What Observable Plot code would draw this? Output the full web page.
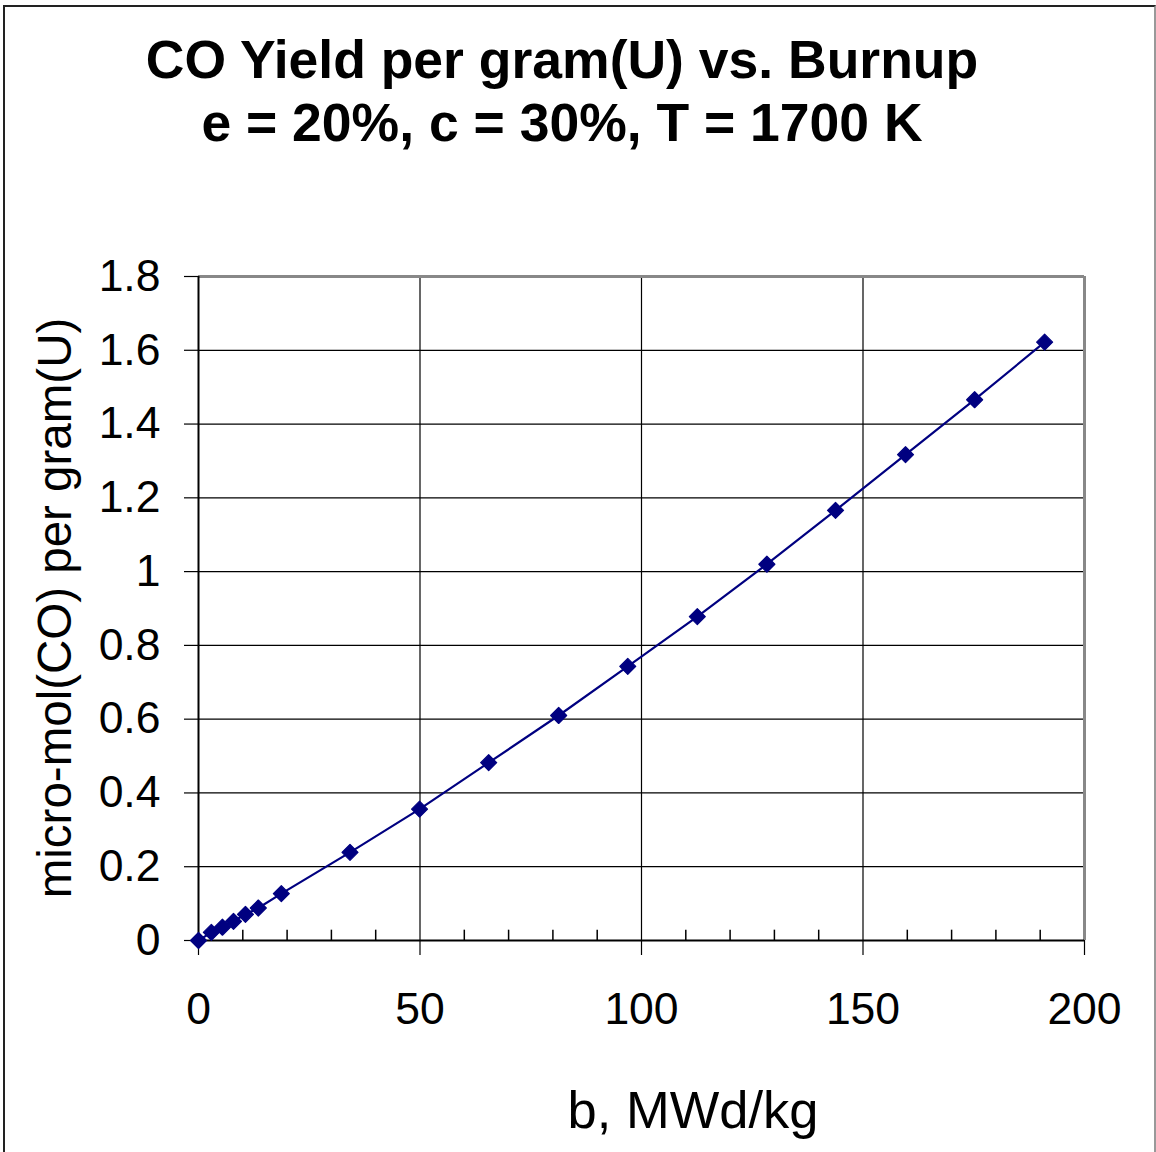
<!DOCTYPE html>
<html>
<head>
<meta charset="utf-8">
<script src="https://cdn.jsdelivr.net/npm/d3@7"></script>
<script src="https://cdn.jsdelivr.net/npm/@observablehq/plot@0.6"></script>
<style>
  html, body { margin: 0; padding: 0; background: white; }
  #wrap { position: relative; width: 1156px; height: 1152px; overflow: hidden; font-family: "Liberation Sans", Arial, sans-serif; }
  #frame { position: absolute; left: 3px; top: 5px; width: 1153px; height: 1160px; border: 2px solid #222; border-right-color: #999; box-sizing: border-box; }
  #title { position: absolute; left: 0; width: 1124px; top: 28px; text-align: center; font-weight: bold; font-size: 53.5px; line-height: 63px; color: #000; }
  #xlabel { position: absolute; left: 0; width: 1386px; top: 1080px; text-align: center; font-size: 52.5px; line-height: 60px; }
  #ylabel { position: absolute; left: 55px; top: 608px; transform: translate(-50%, -50%) rotate(-90deg); white-space: nowrap; font-size: 47.5px; line-height: 52px; }
  svg { position: absolute; left: 0; top: 0; }
</style>
</head>
<body>
<div id="wrap">
  <div id="frame"></div>
  <div id="chart"></div>
  <div id="title">CO Yield per gram(U) vs. Burnup<br>e = 20%, c = 30%, T = 1700 K</div>
  <div id="ylabel">micro-mol(CO) per gram(U)</div>
  <div id="xlabel">b, MWd/kg</div>
</div>
<script>
// Data
const burnup = [0, 2.9, 5.4, 7.9, 10.6, 13.5, 18.7, 34.2, 49.9, 65.5, 81.3, 96.9, 112.6, 128.3, 143.8, 159.6, 175.2, 191.0];
const coYield = [0, 0.022, 0.036, 0.052, 0.071, 0.088, 0.127, 0.239, 0.356, 0.482, 0.610, 0.743, 0.878, 1.020, 1.166, 1.317, 1.466, 1.622];
const xMajorTicks = [0, 50, 100, 150, 200];
const xMinorTicks = [10, 20, 30, 40, 60, 70, 80, 90, 110, 120, 130, 140, 160, 170, 180, 190];
const yTicks = [0, 0.2, 0.4, 0.6, 0.8, 1, 1.2, 1.4, 1.6, 1.8];
const yTickLabels = ["0", "0.2", "0.4", "0.6", "0.8", "1", "1.2", "1.4", "1.6", "1.8"];

const data = burnup.map((b, i) => ({b, y: coYield[i]}));

const chart = Plot.plot({
  width: 1156,
  height: 1152,
  marginLeft: 198,
  marginRight: 72,
  marginTop: 276,
  marginBottom: 212,
  style: {background: "none", fontFamily: "'Liberation Sans', Arial, sans-serif", fontSize: "44px", color: "#000"},
  x: {domain: [0, 200]},
  y: {domain: [0, 1.8]},
  marks: [
    Plot.gridX(xMajorTicks.filter(d => d > 0 && d < 200), {stroke: "#000", strokeOpacity: 1, strokeWidth: 1.2}),
    Plot.gridY(yTicks.filter(d => d > 0 && d < 1.8), {stroke: "#000", strokeOpacity: 1, strokeWidth: 1.2}),
    Plot.ruleY([1.8], {stroke: "#888", strokeWidth: 3}),
    Plot.ruleX([200], {stroke: "#888", strokeWidth: 3}),
    Plot.ruleX(xMinorTicks, {x: d => d, y1: 0, y2: 0.028, stroke: "#000", strokeWidth: 1.5}),
    Plot.ruleX([0], {stroke: "#000", strokeWidth: 2}),
    Plot.ruleY([0], {stroke: "#000", strokeWidth: 2}),
    Plot.axisX(xMajorTicks, {anchor: "bottom", tickSize: 15, tickPadding: 37, label: null, fontSize: 44.5, stroke: "#000", strokeWidth: 1.2}),
    Plot.axisY(yTicks, {anchor: "left", tickSize: 14, tickPadding: 24, label: null, fontSize: 44.5, tickFormat: d => yTickLabels[yTicks.indexOf(d)], stroke: "#000", strokeWidth: 1.2}),
    Plot.line(data, {x: "b", y: "y", stroke: "#000080", strokeWidth: 2.2}),
    Plot.dot(data, {x: "b", y: "y", symbol: "diamond2", r: 7.2, fill: "#000080", stroke: "#000080", strokeWidth: 1.2, strokeLinejoin: "round"})
  ]
});
document.getElementById("chart").appendChild(chart);
</script>
</body>
</html>
